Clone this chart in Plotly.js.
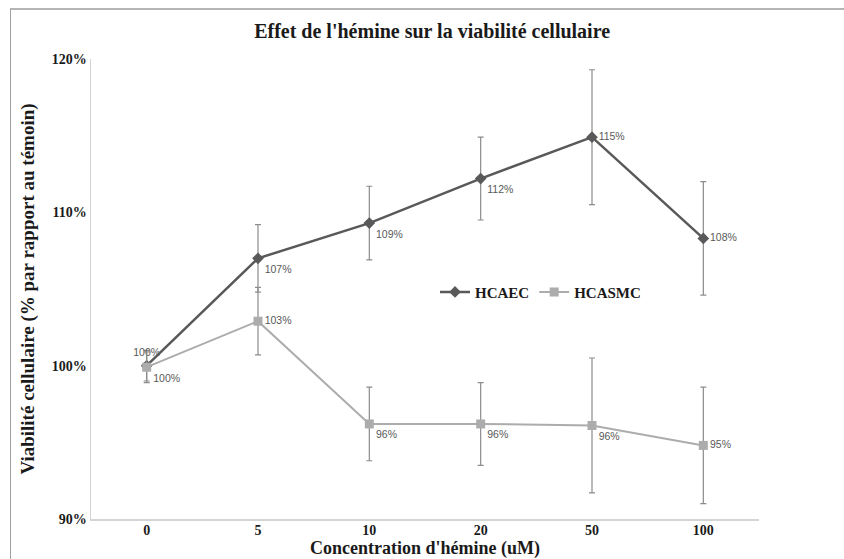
<!DOCTYPE html>
<html>
<head>
<meta charset="utf-8">
<script src="https://cdn.plot.ly/plotly-3.0.1.min.js"></script>
<style>
  html, body { margin: 0; padding: 0; background: #fff; }
  #wrap { position: relative; width: 844px; height: 559px; overflow: hidden; }
  #chart { position: absolute; left: 0; top: 0; width: 844px; height: 559px; }
  #frame { position: absolute; left: 10px; top: 8px; width: 840px; height: 560px;
           border-top: 2px solid #b4b4b4; border-left: 1px solid #a0a0a0; pointer-events: none; }
</style>
</head>
<body>
<div id="wrap">
  <div id="chart"></div>
  <div id="frame"></div>
</div>
<script>
const categories = ['0', '5', '10', '20', '50', '100'];
const hcaecValues = [100.0, 107.0, 109.3, 112.2, 114.9, 108.3];
const hcaecErrors = [1.0, 2.2, 2.4, 2.7, 4.4, 3.7];
const hcasmcValues = [99.9, 102.9, 96.2, 96.2, 96.1, 94.8];
const hcasmcErrors = [1.0, 2.2, 2.4, 2.7, 4.4, 3.8];
const yTicks = [90, 100, 110, 120];

const hcaecPos = ['top center', 'bottom right', 'bottom right', 'bottom right', 'middle right', 'middle right'];
const hcasmcPos = ['bottom right', 'middle right', 'bottom right', 'bottom right', 'bottom right', 'middle right'];

const labelFont = { family: 'Liberation Sans, Arial, sans-serif', size: 10.5, color: '#595959' };
const serif = 'Liberation Serif, Times New Roman, serif';

const traces = [
  {
    name: 'HCAEC', x: categories, y: hcaecValues, type: 'scatter', mode: 'lines+markers+text',
    line: { color: '#595959', width: 2.5 },
    marker: { symbol: 'diamond', size: 9, color: '#595959' },
    error_y: { type: 'data', array: hcaecErrors, visible: true, color: '#8c8c8c', thickness: 1.2, width: 3 },
    texttemplate: '%{y:.0f}%', textposition: hcaecPos, textfont: labelFont,
    hoverinfo: 'skip', cliponaxis: false
  },
  {
    name: 'HCASMC', x: categories, y: hcasmcValues, type: 'scatter', mode: 'lines+markers+text',
    line: { color: '#acacac', width: 2 },
    marker: { symbol: 'square', size: 9, color: '#acacac' },
    error_y: { type: 'data', array: hcasmcErrors, visible: true, color: '#8c8c8c', thickness: 1.2, width: 3 },
    texttemplate: '%{y:.0f}%', textposition: hcasmcPos, textfont: labelFont,
    hoverinfo: 'skip', cliponaxis: false
  }
];

const layout = {
  width: 844, height: 559,
  margin: { l: 91, r: 85, t: 59, b: 40 },
  paper_bgcolor: 'rgba(0,0,0,0)', plot_bgcolor: '#fff',
  title: { text: "Effet de l'hémine sur la viabilité cellulaire", x: 0.512, xanchor: 'center', y: 0.945, yanchor: 'middle',
           font: { family: serif, size: 20, color: '#1a1a1a', weight: 'bold' } },
  xaxis: {
    type: 'category', range: [-0.5, 5.5], showgrid: false, zeroline: false,
    showline: true, linecolor: '#d4d4d4', linewidth: 2, ticks: '', ticklabelstandoff: -3,
    tickfont: { family: serif, size: 14, color: '#1a1a1a', weight: 'bold' },
    title: { text: "Concentration d'hémine (uM)", standoff: 0,
             font: { family: serif, size: 18, color: '#1a1a1a', weight: 'bold' } }
  },
  yaxis: {
    range: [90, 120], tickvals: yTicks, ticktext: yTicks.map(v => v + '%'),
    showgrid: false, zeroline: false, showline: true, linecolor: '#d4d4d4', linewidth: 1.5, ticks: '',
    tickfont: { family: serif, size: 14, color: '#1a1a1a', weight: 'bold' },
    title: { text: 'Viabilité cellulaire (% par rapport au témoin)', standoff: 12,
             font: { family: serif, size: 19, color: '#1a1a1a', weight: 'bold' } }
  },
  showlegend: true,
  legend: {
    orientation: 'h', x: 0.515, xanchor: 'left', y: 0.493, yanchor: 'middle',
    bgcolor: 'rgba(0,0,0,0)', itemwidth: 30, tracegroupgap: 0,
    font: { family: serif, size: 15, color: '#1a1a1a', weight: 'bold' }
  }
};

Plotly.newPlot('chart', traces, layout, { displayModeBar: false, staticPlot: true });
</script>
</body>
</html>
